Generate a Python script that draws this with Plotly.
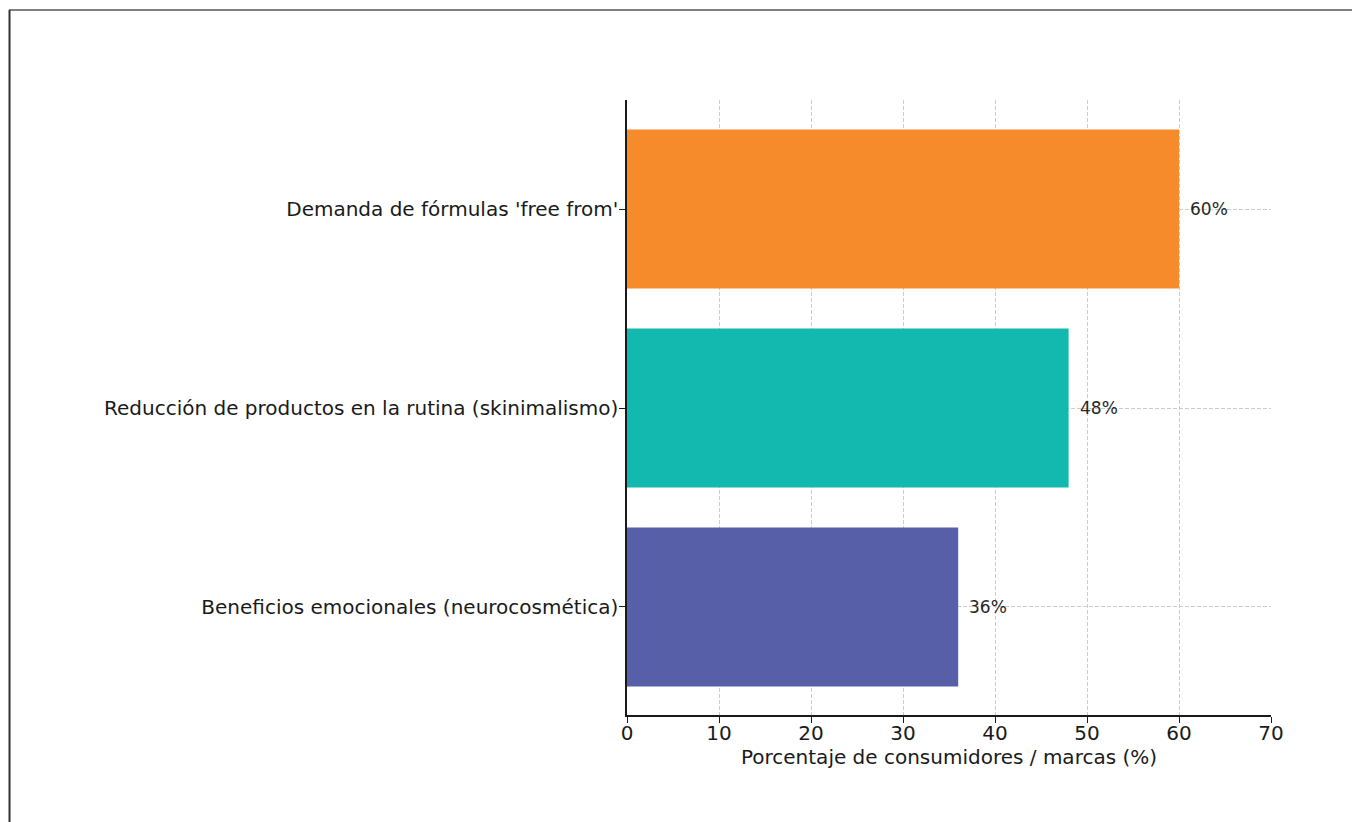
import plotly.graph_objects as go

categories = [
    "Beneficios emocionales (neurocosmética)",
    "Reducción de productos en la rutina (skinimalismo)",
    "Demanda de fórmulas 'free from'",
]
values = [36, 48, 60]
colors = ["#585FA9", "#13B9AE", "#F68B2C"]
x_ticks = [0, 10, 20, 30, 40, 50, 60, 70]
x_title = "Porcentaje de consumidores / marcas (%)"

OFF = 8  # default page body margin
W, H = 1360 - OFF, 822 - OFF
L, R, T, B = 627 - OFF, 1271 - OFF, 100 - OFF, 715 - OFF

fig = go.Figure()
fig.add_trace(go.Bar(
    y=list(range(len(categories))),
    x=values,
    orientation="h",
    marker=dict(color=colors, line=dict(width=0)),
    width=0.8,
    hoverinfo="x+y",
))

for i, v in enumerate(values):
    fig.add_annotation(
        x=v + 1, y=i, text=f"{v}%", showarrow=False,
        xanchor="left", yanchor="middle",
        font=dict(family="DejaVu Sans", size=17, color="#262626"),
    )

def px2paper_x(px):
    return (px - OFF - L) / (R - L)

def px2paper_y(py):
    return (B - (py - OFF)) / (B - T)

# outer frame (top and left lines)
fig.add_shape(type="line", xref="paper", yref="paper",
              x0=px2paper_x(9), x1=px2paper_x(1365), y0=px2paper_y(10), y1=px2paper_y(10),
              line=dict(color="#808080", width=2))
fig.add_shape(type="line", xref="paper", yref="paper",
              x0=px2paper_x(9.5), x1=px2paper_x(9.5), y0=px2paper_y(10), y1=px2paper_y(830),
              line=dict(color="#333333", width=2))

fig.update_layout(
    width=W, height=H,
    margin=dict(l=L, r=W - R, t=T, b=H - B, pad=0),
    paper_bgcolor="white", plot_bgcolor="white",
    showlegend=False,
    font=dict(family="DejaVu Sans", color="#1a1a1a"),
    bargap=0.2,
)
fig.update_xaxes(
    range=[0, 70], tickvals=x_ticks, ticktext=[str(t) for t in x_ticks],
    showgrid=True, gridcolor="#cccccc", griddash="4px,2px", gridwidth=1,
    showline=True, linecolor="#1a1a1a", linewidth=1.5,
    ticks="outside", ticklen=6, tickcolor="#1a1a1a", tickwidth=1.2,
    tickfont=dict(size=20, family="DejaVu Sans", color="#1a1a1a"),
    ticklabelstandoff=-7,
    title=dict(text=x_title, font=dict(size=20, family="DejaVu Sans", color="#1a1a1a"), standoff=6),
    zeroline=False, mirror=False,
)
fig.update_yaxes(
    range=[-0.543, 2.548],
    tickvals=list(range(len(categories))), ticktext=categories,
    showgrid=True, gridcolor="#cccccc", griddash="4px,2px", gridwidth=1,
    showline=True, linecolor="#1a1a1a", linewidth=1.5,
    ticks="outside", ticklen=6, tickcolor="#1a1a1a", tickwidth=1.2,
    tickfont=dict(size=20, family="DejaVu Sans", color="#1a1a1a"),
    ticklabelstandoff=-3,
    zeroline=False, mirror=False,
)

fig.write_html("out.html")
